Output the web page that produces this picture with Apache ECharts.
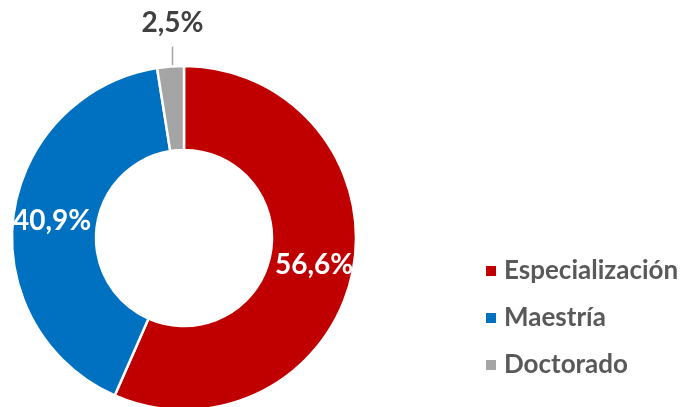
<!DOCTYPE html>
<html>
<head>
<meta charset="utf-8">
<script src="https://cdn.jsdelivr.net/npm/echarts@6/dist/echarts.min.js"></script>
<style>
  html, body { margin: 0; padding: 0; background: #fff; }
  #chart { width: 687px; height: 407px; }
</style>
</head>
<body>
<div id="chart"></div>
<script>
const categories = ['Especialización', 'Maestría', 'Doctorado'];
const shares = [56.6, 40.9, 2.5];
const colors = ['#C00000', '#0070C0', '#A5A5A5'];

const fmt = v => v.toFixed(1).replace('.', ',') + '%';

const chart = echarts.init(document.getElementById('chart'));

const option = {
    animation: false,
    legend: {
        orient: 'vertical',
        left: 479,
        top: 253,
        itemWidth: 12,
        itemHeight: 12,
        itemGap: 21,
        icon: 'rect',
        textStyle: {
            fontFamily: 'Lato',
            fontWeight: 'bold',
            fontSize: 26,
            color: '#595959',
            padding: [0, 0, 0, 2],
        },
        data: categories,
    },
    series: [{
        type: 'pie',
        center: [184, 238],
        radius: [88, 172],
        startAngle: 90,
        clockwise: true,
        itemStyle: { borderColor: '#fff', borderWidth: 2.5 },
        label: {
            position: 'inside',
            formatter: p => fmt(p.value),
            fontFamily: 'Lato',
            fontWeight: 'bold',
            fontSize: 28,
            color: '#fff',
        },
        labelLine: { show: false },
        // small slice: label straight above the ring, short vertical leader
        labelLayout: params => {
            if (params.dataIndex !== 2 || !params.labelLinePoints) return;
            const [x0, y0] = params.labelLinePoints[0];
            const x = x0 + 2;
            return {
                x: x,
                y: y0 - 44,
                align: 'center',
                verticalAlign: 'middle',
                labelLinePoints: [[x, y0], [x, y0 - 20], [x, y0 - 20]],
            };
        },
        data: categories.map((name, i) => ({
            name,
            value: shares[i],
            itemStyle: { color: colors[i] },
            label: i === 2 ? { position: 'outside', color: '#404040' } : undefined,
            labelLine: i === 2 ? { show: true, length: 20, length2: 0, lineStyle: { color: '#A5A5A5', width: 1.5 } } : undefined,
        })),
    }],
};

chart.setOption(option);
</script>
</body>
</html>
